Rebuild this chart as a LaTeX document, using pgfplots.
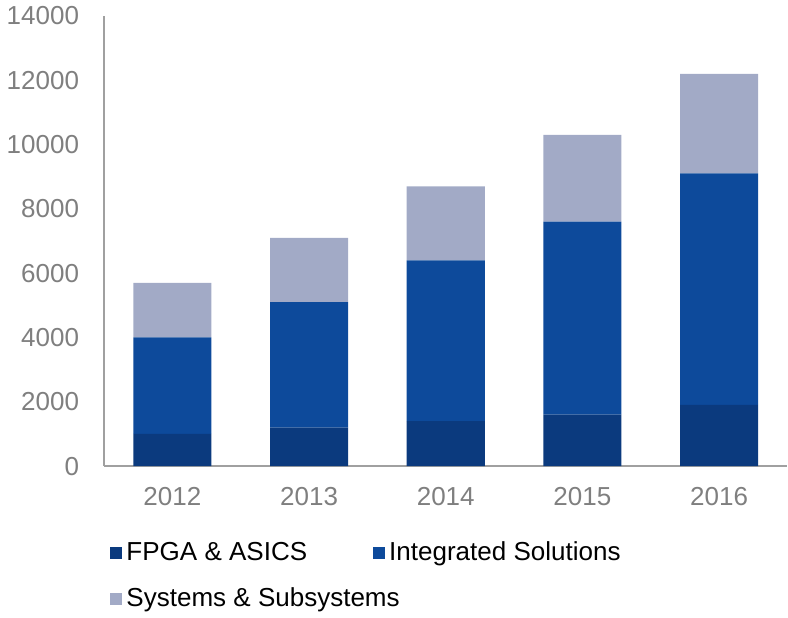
\documentclass[border=0pt]{standalone}
\usepackage{pgfplots}
\pgfplotsset{compat=1.18}
\usepackage{fontspec}
\setmainfont{Liberation Sans}

\definecolor{fpga}{HTML}{0B3A7E}
\definecolor{integ}{HTML}{0D4A9B}
\definecolor{syst}{HTML}{A2AAC6}
\definecolor{axisgray}{HTML}{A0A0A0}
\definecolor{labelgray}{HTML}{7F7F7F}

\begin{document}
\begin{tikzpicture}
\begin{axis}[
  scale only axis,
  width=341.5pt, height=225pt,
  ybar stacked,
  bar width=39pt,
  xmin=-0.5, xmax=4.5,
  ymin=0, ymax=14000,
  ytick={0,2000,...,14000},
  xtick={0,1,2,3,4},
  xticklabels={2012,2013,2014,2015,2016},
  axis x line=bottom, axis y line=left,
  axis line style={draw=axisgray, line width=0.6pt, -},
  major tick length=0pt,
  tick label style={font=\fontsize{13}{15}\selectfont, text=labelgray},
  yticklabel style={xshift=-9pt},
  xticklabel style={yshift=-7pt},
  scaled y ticks=false,
  /pgf/number format/assume math mode=true,
  yticklabel={\pgfmathprintnumber[fixed,1000 sep={}]{\tick}},
  legend columns=2,
  legend cell align=left,
  legend style={at={(axis description cs:0,-0.15)}, anchor=north west,
    draw=none, fill=none, font=\fontsize{13}{15}\selectfont,
    /tikz/every even column/.append style={column sep=31pt},
    row sep=8pt},
  legend image code/.code={\fill[#1] (-3pt,-3pt) rectangle (3pt,3pt);},
]
\addplot[fill=fpga, draw=none] coordinates {(0,1000) (1,1200) (2,1400) (3,1600) (4,1900)};
\addplot[fill=integ, draw=none] coordinates {(0,3000) (1,3900) (2,5000) (3,6000) (4,7200)};
\addplot[fill=syst, draw=none] coordinates {(0,1700) (1,2000) (2,2300) (3,2700) (4,3100)};
\legend{FPGA \& ASICS, Integrated Solutions, \rlap{Systems \& Subsystems}}
\end{axis}
\end{tikzpicture}
\end{document}
